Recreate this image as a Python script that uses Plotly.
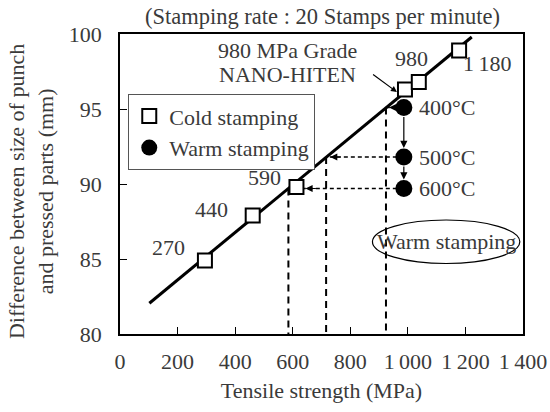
import plotly.graph_objects as go

# ---- data ----
cold_ts = [295, 461, 613, 990, 1038, 1178]
cold_diff = [84.9, 87.9, 89.8, 96.3, 96.8, 98.9]

warm_ts = [986, 986, 986]
warm_diff = [95.1, 91.8, 89.7]
warm_labels = ["400°C", "500°C", "600°C"]

# equivalent cold-stamping strength
equiv_ts = [924, 716, 585]

line_ts = [102, 1222]
line_diff = [82.05, 99.8]

grade_labels = ["270", "440", "590", "980", "1\u2009180"]
grade_label_x = [168, 318, 503, 1013, 1274]
grade_label_y = [85.75, 88.3, 90.45, 98.4, 98.05]

x_ticks = [0, 200, 400, 600, 800, 1000, 1200, 1400]
x_ticktext = ["0", "200", "400", "600", "800", "1\u2009000", "1\u2009200", "1\u2009400"]
y_ticks = [80, 85, 90, 95, 100]

FONT = "Liberation Serif"
TXT = "#3a3a3a"

fig = go.Figure()

# trend line
fig.add_trace(go.Scatter(x=line_ts, y=line_diff, mode="lines",
                         line=dict(color="black", width=3), showlegend=False, hoverinfo="skip"))

# vertical dashed lines from equivalent points to the axis
for ex, wy in zip(equiv_ts, warm_diff):
    fig.add_trace(go.Scatter(x=[ex, ex], y=[wy, 80], mode="lines",
                             line=dict(color="black", width=2, dash="7px,5px"),
                             showlegend=False, hoverinfo="skip"))
# horizontal dashed lines from warm points to the line
for wx, ex, wy in zip(warm_ts, equiv_ts, warm_diff):
    fig.add_trace(go.Scatter(x=[wx, ex], y=[wy, wy], mode="lines",
                             line=dict(color="black", width=1.3, dash="4px,3px"),
                             showlegend=False, hoverinfo="skip"))

fig.add_trace(go.Scatter(x=cold_ts, y=cold_diff, mode="markers", name="Cold stamping",
                         marker=dict(symbol="square", size=14, color="white",
                                     line=dict(color="black", width=2))))
fig.add_trace(go.Scatter(x=warm_ts, y=warm_diff, mode="markers", name="Warm stamping",
                         marker=dict(symbol="circle", size=17, color="black")))

ann = []
# arrowheads on the horizontal dashed lines
stand = [3, 4, 17]
for ex, wy, s in zip(equiv_ts, warm_diff, stand):
    ann.append(dict(x=ex, y=wy, xref="x", yref="y", ax=12 + s, ay=0, showarrow=True,
                    arrowhead=2, arrowsize=1.2, arrowwidth=1.2, arrowcolor="black",
                    standoff=s, text=""))
# solid arrows between warm points
for i in range(len(warm_ts) - 1):
    ann.append(dict(x=warm_ts[i + 1], y=warm_diff[i + 1], ax=warm_ts[i], ay=warm_diff[i],
                    xref="x", yref="y", axref="x", ayref="y", showarrow=True,
                    arrowhead=2, arrowsize=1.2, arrowwidth=1.2, arrowcolor="black",
                    standoff=9, startstandoff=8, text=""))
# temperature labels
for wx, wy, t in zip(warm_ts, warm_diff, warm_labels):
    ann.append(dict(x=wx, y=wy, xref="x", yref="y", text=t, showarrow=False,
                    xanchor="left", xshift=13, font=dict(family=FONT, size=22, color=TXT)))
# grade labels
for gx, gy, t in zip(grade_label_x, grade_label_y, grade_labels):
    ann.append(dict(x=gx, y=gy, xref="x", yref="y", text=t, showarrow=False,
                    font=dict(family=FONT, size=22, color=TXT)))
# NANO-HITEN note and arrow
ann.append(dict(x=582, y=98.93, xref="x", yref="y", text="980 MPa Grade",
                showarrow=False, font=dict(family=FONT, size=22, color=TXT)))
ann.append(dict(x=582, y=97.27, xref="x", yref="y", text="NANO-HITEN",
                showarrow=False, font=dict(family=FONT, size=22, color=TXT)))
ann.append(dict(x=962, y=96.13, ax=874, ay=97.38, xref="x", yref="y", axref="x", ayref="y",
                showarrow=True, arrowhead=2, arrowsize=1, arrowwidth=1.2,
                arrowcolor="black", text=""))
# Warm stamping ellipse label
ann.append(dict(x=1133, y=86.15, xref="x", yref="y", text="Warm stamping", showarrow=False,
                font=dict(family=FONT, size=22, color=TXT)))
# title
ann.append(dict(x=0.503, y=1.057, xref="paper", yref="paper", xanchor="center", yanchor="middle",
                text="(Stamping rate : 20 Stamps per minute)",
                showarrow=False, font=dict(family=FONT, size=22.5, color=TXT)))
# y-axis title
ann.append(dict(x=-0.222, y=0.475, xref="paper", yref="paper", xanchor="center", yanchor="middle",
                textangle=-90,
                text="Difference between size of punch<br>and pressed parts (mm)",
                showarrow=False, font=dict(family=FONT, size=22, color=TXT)))

fig.update_layout(
    width=550, height=412,
    margin=dict(l=120, r=27, t=34, b=78),
    paper_bgcolor="white", plot_bgcolor="white",
    font=dict(family=FONT, size=22, color=TXT),
    annotations=ann,
    shapes=[dict(type="circle", xref="x", yref="y", x0=877, x1=1389, y0=84.7, y1=87.6,
                 line=dict(color="black", width=1.2))],
    legend=dict(x=0.02, y=0.8, xanchor="left", yanchor="top",
                bordercolor="#555", borderwidth=1.2, bgcolor="white",
                font=dict(family=FONT, size=22, color=TXT),
                itemwidth=30, tracegroupgap=0),
    xaxis=dict(range=[0, 1400], tickvals=x_ticks, ticktext=x_ticktext, automargin=False,
               ticks="inside", ticklen=7, tickcolor="black", tickwidth=1.2,
               showline=True, linecolor="black", linewidth=1.5, mirror=True,
               showgrid=False, zeroline=False, ticklabelstandoff=7,
               title=dict(text="Tensile strength (MPa)", standoff=9,
                          font=dict(family=FONT, size=22, color=TXT))),
    yaxis=dict(range=[80, 100], tickvals=y_ticks, automargin=False,
               ticks="inside", ticklen=7, tickcolor="black", tickwidth=1.2,
               showline=True, linecolor="black", linewidth=1.5, mirror=True,
               showgrid=False, zeroline=False, ticklabelstandoff=12),
)

fig.write_html("out.html")
